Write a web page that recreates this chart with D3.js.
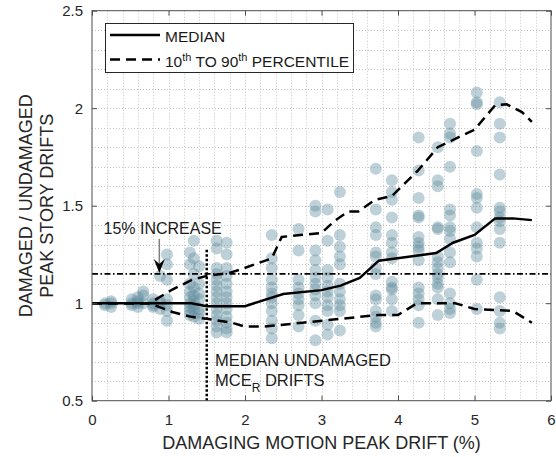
<!DOCTYPE html>
<html>
<head>
<meta charset="utf-8">
<script src="https://cdn.jsdelivr.net/npm/d3@7"></script>
<style>
  html, body { margin: 0; padding: 0; background: #fff; }
  svg { display: block; font-family: "Liberation Sans", Arial, Helvetica, sans-serif; }
</style>
</head>
<body>
<svg id="chart" width="556" height="457"></svg>
<script>
// ---------------- DATA ----------------
const xTicks = [0, 1, 2, 3, 4, 5, 6];
const yTicks = [0.5, 1, 1.5, 2, 2.5];
const yTickLabels = ["0.5", "1", "1.5", "2", "2.5"];

// scatter columns: x position of each column and the y values in it
const scatterX = [0.17, 0.25, 0.52, 0.6, 0.67, 0.8, 0.89, 0.98, 1.28, 1.33, 1.4, 1.63, 1.76,
                  2.35, 2.7, 2.92, 3.08, 3.24, 3.71, 3.92, 4.27, 4.52, 4.68, 5.03, 5.33];
const scatterY = [
  [1.0, 0.99],
  [1.0, 1.01, 0.98],
  [1.0, 1.02, 0.99],
  [1.03, 1.0, 0.98, 1.01],
  [1.06, 1.04, 1.0],
  [1.0, 1.02, 0.98, 0.99],
  [1.14, 1.0, 0.97, 1.01],
  [1.25, 1.2, 1.12, 1.02, 0.99, 0.96, 0.91],
  [1.26, 1.2, 1.1, 1.06, 1.03, 1.0, 0.98, 0.96, 0.94],
  [1.32, 1.23, 1.15, 1.08, 1.04, 1.01, 0.99, 0.97, 0.93],
  [1.19, 1.1, 1.05, 1.02, 0.97, 0.95, 0.92],
  [1.32, 1.28, 1.18, 1.15, 1.12, 1.09, 1.06, 1.03, 1.0, 0.97, 0.94, 0.91, 0.88, 0.85],
  [1.31, 1.25, 1.18, 1.14, 1.1, 1.06, 1.03, 1.0, 0.97, 0.93, 0.9, 0.87, 0.85],
  [1.35, 1.23, 1.18, 1.12, 1.08, 1.05, 1.03, 1.0, 0.96, 0.91, 0.87, 0.82],
  [1.38, 1.27, 1.12, 1.08, 1.05, 1.02, 0.99, 0.94, 0.88],
  [1.5, 1.47, 1.27, 1.22, 1.17, 1.13, 1.1, 1.07, 1.04, 1.0, 0.91, 0.81],
  [1.48, 1.32, 1.17, 1.13, 1.09, 1.06, 1.03, 0.99, 0.96, 0.89, 0.84],
  [1.57, 1.35, 1.29, 1.24, 1.2, 1.1, 1.06, 1.02, 0.99, 0.96, 0.86],
  [1.69, 1.48, 1.39, 1.35, 1.26, 1.24, 1.18, 1.15, 1.04, 1.02, 0.96, 0.93, 0.9, 0.88],
  [1.63, 1.57, 1.53, 1.44, 1.35, 1.31, 1.26, 1.23, 1.11, 1.08, 1.07, 1.02, 0.96],
  [1.85, 1.68, 1.54, 1.45, 1.44, 1.34, 1.31, 1.29, 1.27, 1.22, 1.08, 1.05, 1.02, 0.99, 0.9],
  [1.8, 1.63, 1.6, 1.39, 1.38, 1.24, 1.21, 1.18, 1.15, 1.13, 1.1, 1.08, 1.02, 0.94],
  [1.92, 1.87, 1.85, 1.7, 1.48, 1.45, 1.39, 1.37, 1.33, 1.26, 1.21, 1.05, 1.0, 0.97, 0.95],
  [2.08, 2.03, 2.02, 1.78, 1.56, 1.54, 1.49, 1.39, 1.31, 1.28, 1.24, 1.12, 0.97],
  [2.03, 1.92, 1.85, 1.66, 1.49, 1.47, 1.44, 1.42, 1.38, 1.31, 1.03, 0.96, 0.9, 0.87]
];

// median line
const medianX = [0, 1.3, 1.5, 2.0, 2.5, 3.0, 3.25, 3.5, 3.75, 4.5, 4.72, 5.0, 5.27, 5.5, 5.75];
const medianY = [1.0, 1.0, 0.985, 0.985, 1.047, 1.067, 1.09, 1.13, 1.218, 1.257, 1.31, 1.35, 1.435, 1.435, 1.426];

// 90th percentile
const p90X = [0, 0.75, 1.05, 1.31, 1.5, 1.79, 1.92, 2.35, 2.48, 3.0, 3.18, 3.35, 3.48, 3.7, 3.92, 4.26, 4.52, 5.0, 5.27, 5.42, 5.62, 5.75];
const p90Y = [1.0, 1.0, 1.07, 1.12, 1.14, 1.155, 1.17, 1.23, 1.34, 1.36, 1.425, 1.47, 1.47, 1.53, 1.55, 1.68, 1.80, 1.89, 2.015, 2.02, 1.98, 1.93];

// 10th percentile
const p10X = [0, 0.75, 1.05, 1.3, 1.5, 1.83, 2.0, 2.25, 2.75, 3.25, 3.75, 4.0, 4.25, 4.75, 5.0, 5.5, 5.75];
const p10Y = [1.0, 1.0, 0.955, 0.93, 0.92, 0.90, 0.88, 0.88, 0.90, 0.92, 0.94, 0.94, 1.0, 1.0, 0.97, 0.96, 0.90];

const increaseLevel = 1.15;
const mceDrift = 1.5;
const mceTop = 1.28;
const arrowX = 0.88;
const arrowFromY = 1.33;
const arrowToY = 1.15;

const legendLabels = ["MEDIAN", "10th TO 90th PERCENTILE"];

// ---------------- LAYOUT ----------------
const svg = d3.select("#chart");
const pLeft = 92, pRight = 551, pTop = 10.7, pBottom = 400.7;
const x = d3.scaleLinear().domain([0, 6]).range([pLeft, pRight]);
const y = d3.scaleLinear().domain([0.5, 2.5]).range([pBottom, pTop]);
const textColor = "#262626";
const fontFam = '"Liberation Sans", Arial, Helvetica, sans-serif';

// grid (minor dotted)
const gridG = svg.append("g");
gridG.selectAll("line.gx").data(d3.range(1, 30).map(i => i * 0.2)).enter().append("line")
  .attr("x1", d => Math.round(x(d)) + 0.5).attr("x2", d => Math.round(x(d)) + 0.5)
  .attr("y1", pTop).attr("y2", pBottom)
  .attr("stroke", "#c4c4c4").attr("stroke-width", 1).attr("stroke-dasharray", "1,2");
gridG.selectAll("line.gy").data(d3.range(6, 25).map(i => i * 0.1)).enter().append("line")
  .attr("y1", d => Math.round(y(d)) + 0.5).attr("y2", d => Math.round(y(d)) + 0.5)
  .attr("x1", pLeft).attr("x2", pRight)
  .attr("stroke", "#c4c4c4").attr("stroke-width", 1).attr("stroke-dasharray", "1,2");

// scatter points
const pts = [];
scatterX.forEach((cx, i) => scatterY[i].forEach(v => pts.push([cx, v])));
svg.append("g").selectAll("circle").data(pts).enter().append("circle")
  .attr("cx", d => x(d[0])).attr("cy", d => y(d[1])).attr("r", 6)
  .attr("fill", "#5e8c9d").attr("fill-opacity", 0.4);

// lines
const line = d3.line().x(d => x(d[0])).y(d => y(d[1]));
svg.append("path").datum(p90X.map((v, i) => [v, p90Y[i]])).attr("d", line)
  .attr("fill", "none").attr("stroke", "#000").attr("stroke-width", 2.5).attr("stroke-dasharray", "10,6");
svg.append("path").datum(p10X.map((v, i) => [v, p10Y[i]])).attr("d", line)
  .attr("fill", "none").attr("stroke", "#000").attr("stroke-width", 2.5).attr("stroke-dasharray", "10,6");
svg.append("path").datum(medianX.map((v, i) => [v, medianY[i]])).attr("d", line)
  .attr("fill", "none").attr("stroke", "#000").attr("stroke-width", 2.5);

// 15% increase dash-dot line
svg.append("line").attr("x1", x(0)).attr("x2", x(6)).attr("y1", y(increaseLevel)).attr("y2", y(increaseLevel))
  .attr("stroke", "#000").attr("stroke-width", 1.8).attr("stroke-dasharray", "6,2.5,1.5,2.5");

// median MCE vertical dotted line
svg.append("line").attr("x1", x(mceDrift)).attr("x2", x(mceDrift)).attr("y1", y(0.5)).attr("y2", y(mceTop))
  .attr("stroke", "#000").attr("stroke-width", 2.5).attr("stroke-dasharray", "2.5,2");

// arrow
const ax = x(arrowX);
const tipY = y(arrowToY) - 1;
svg.append("line").attr("x1", ax).attr("x2", ax).attr("y1", y(arrowFromY)).attr("y2", tipY - 8)
  .attr("stroke", "#808080").attr("stroke-width", 1.5);
svg.append("path")
  .attr("d", `M${ax},${tipY} L${ax - 5.5},${tipY - 14} L${ax},${tipY - 9} L${ax + 5.5},${tipY - 14} Z`)
  .attr("fill", "#000");

// frame
svg.append("rect").attr("x", pLeft).attr("y", pTop).attr("width", pRight - pLeft).attr("height", pBottom - pTop)
  .attr("fill", "none").attr("stroke", "#4d4d4d").attr("stroke-width", 1);

// axes
const xAxis = svg.append("g").attr("transform", `translate(0,${pBottom})`)
  .call(d3.axisBottom(x).tickValues(xTicks).tickFormat(d3.format("d")).tickSizeInner(-5).tickSizeOuter(0).tickPadding(13.5));
const yAxis = svg.append("g").attr("transform", `translate(${pLeft},0)`)
  .call(d3.axisLeft(y).tickValues(yTicks).tickFormat((d, i) => yTickLabels[i]).tickSizeInner(-5).tickSizeOuter(0).tickPadding(9));
const xTopAxis = svg.append("g").attr("transform", `translate(0,${pTop})`)
  .call(d3.axisTop(x).tickValues(xTicks).tickFormat("").tickSizeInner(-5).tickSizeOuter(0));
const yRightAxis = svg.append("g").attr("transform", `translate(${pRight},0)`)
  .call(d3.axisRight(y).tickValues(yTicks).tickFormat("").tickSizeInner(-5).tickSizeOuter(0));
[xAxis, yAxis, xTopAxis, yRightAxis].forEach(g => {
  g.select(".domain").remove();
  g.selectAll(".tick line").attr("stroke", "#4d4d4d");
  g.selectAll("text").attr("fill", textColor).attr("font-size", 15).attr("font-family", fontFam);
});

// axis titles
svg.append("text").attr("x", (pLeft + pRight) / 2).attr("y", 449).attr("text-anchor", "middle")
  .attr("font-size", 18).attr("fill", textColor).text("DAMAGING MOTION PEAK DRIFT (%)");
const yl = svg.append("g").attr("transform", `translate(0,${(pTop + pBottom) / 2}) rotate(-90)`);
yl.append("text").attr("x", 0).attr("y", 32).attr("text-anchor", "middle")
  .attr("font-size", 18).attr("fill", textColor).text("DAMAGED / UNDAMAGED");
yl.append("text").attr("x", 0).attr("y", 53).attr("text-anchor", "middle")
  .attr("font-size", 18).attr("fill", textColor).text("PEAK STORY DRIFTS");

// annotations
svg.append("text").attr("x", 103.5).attr("y", 234).attr("font-size", 16).attr("fill", "#1a1a1a").text("15% INCREASE");
svg.append("text").attr("x", 215).attr("y", 366).attr("font-size", 16.5).attr("fill", "#1a1a1a").text("MEDIAN UNDAMAGED");
const mce = svg.append("text").attr("x", 215).attr("y", 386).attr("font-size", 16.5).attr("fill", "#1a1a1a");
mce.append("tspan").text("MCE");
mce.append("tspan").attr("font-size", 12).attr("dy", 6).text("R");
mce.append("tspan").attr("dy", -6).text(" DRIFTS");

// legend
const lg = svg.append("g");
lg.append("rect").attr("x", 105.5).attr("y", 23.5).attr("width", 248).attr("height", 49)
  .attr("fill", "#fff").attr("stroke", "#262626").attr("stroke-width", 1);
lg.append("line").attr("x1", 110).attr("x2", 160).attr("y1", 35).attr("y2", 35)
  .attr("stroke", "#000").attr("stroke-width", 2.5);
lg.append("line").attr("x1", 110).attr("x2", 160).attr("y1", 59.5).attr("y2", 59.5)
  .attr("stroke", "#000").attr("stroke-width", 2.5).attr("stroke-dasharray", "10,6");
lg.append("text").attr("x", 165).attr("y", 41.5).attr("font-size", 15.5).attr("fill", "#1a1a1a").text(legendLabels[0]);
const l2 = lg.append("text").attr("x", 165).attr("y", 66.5).attr("font-size", 15.5).attr("fill", "#1a1a1a");
const parts = legendLabels[1].match(/^(\d+)(th)( TO )(\d+)(th)( .*)$/);
l2.append("tspan").text(parts[1]);
l2.append("tspan").attr("font-size", 11).attr("dy", -6).text(parts[2]);
l2.append("tspan").attr("dy", 6).text(parts[3] + parts[4]);
l2.append("tspan").attr("font-size", 11).attr("dy", -6).text(parts[5]);
l2.append("tspan").attr("dy", 6).text(parts[6]);
</script>
</body>
</html>
